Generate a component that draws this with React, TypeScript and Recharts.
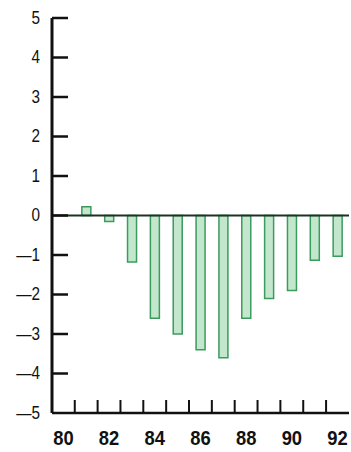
import React from 'react';
import { BarChart, Bar, XAxis, YAxis, ReferenceLine } from 'recharts';

const years = ['80', '81', '82', '83', '84', '85', '86', '87', '88', '89', '90', '91', '92'];
const values = [0, 0.22, -0.15, -1.18, -2.6, -3.0, -3.4, -3.6, -2.6, -2.1, -1.9, -1.13, -1.03];
const yTicks = [-5, -4, -3, -2, -1, 0, 1, 2, 3, 4, 5];
const yTickLabels = ['—5', '—4', '—3', '—2', '—1', '0', '1', '2', '3', '4', '5'];
const xLabelYears = ['80', '82', '84', '86', '88', '90', '92'];

const data = years.map((y, i) => ({ year: y, value: values[i] }));

const FONT = '"Liberation Sans", Arial, sans-serif';

const YTick = (props: any) => {
  const { x, y, payload } = props;
  const idx = yTicks.indexOf(payload.value);
  return (
    <g>
      {payload.value !== -5 && (
        <line x1={x} x2={x + 16} y1={y} y2={y} stroke="#111" strokeWidth={2.5} />
      )}
      <text
        x={x - 12}
        y={y}
        textAnchor="end"
        dominantBaseline="central"
        fontFamily={FONT}
        fontSize={18}
        fill="#111"
        style={{ transform: 'scaleX(0.85)', transformOrigin: `${x - 12}px ${y}px` }}
      >
        {yTickLabels[idx]}
      </text>
    </g>
  );
};

const XTick = (props: any) => {
  const { x, y, payload, index } = props;
  const half = 11.5;
  const showLabel = xLabelYears.includes(payload.value);
  return (
    <g>
      {index > 0 && (
        <line x1={x - half} x2={x - half} y1={y} y2={y - 13} stroke="#111" strokeWidth={2} />
      )}
      {showLabel && (
        <text
          x={x}
          y={y + 25}
          textAnchor="middle"
          dominantBaseline="central"
          fontFamily={FONT}
          fontWeight="bold"
          fontSize={20}
          fill="#111"
          style={{ transform: 'scaleX(0.92)', transformOrigin: `${x}px ${y + 25}px` }}
        >
          {payload.value}
        </text>
      )}
    </g>
  );
};

export default function App() {
  return (
    <div style={{ position: 'absolute', left: 0, top: 0, background: '#fff' }}>
      <BarChart
        width={351}
        height={452}
        data={data}
        margin={{ top: 18, right: 2, bottom: 0, left: 0 }}
        barCategoryGap={0}
      >
        <XAxis
          dataKey="year"
          height={39}
          interval={0}
          tickLine={false}
          tickSize={0}
          tickMargin={0}
          axisLine={{ stroke: '#111', strokeWidth: 2.5 }}
          tick={<XTick />}
        />
        <YAxis
          type="number"
          domain={[-5, 5]}
          ticks={yTicks}
          interval={0}
          width={52}
          tickLine={false}
          tickSize={0}
          tickMargin={0}
          axisLine={{ stroke: '#111', strokeWidth: 3 }}
          tick={<YTick />}
        />
        <YAxis
          yAxisId="right"
          orientation="right"
          width={0}
          domain={[-5, 5]}
          tick={false}
          tickLine={false}
          axisLine={{ stroke: '#555', strokeWidth: 1.5 }}
        />
        <Bar
          dataKey="value"
          barSize={9}
          fill="#c3e7cd"
          stroke="#3d9a5e"
          strokeWidth={1.5}
          isAnimationActive={false}
        />
        <ReferenceLine y={0} stroke="#1c3324" strokeWidth={2} />
      </BarChart>
    </div>
  );
}
